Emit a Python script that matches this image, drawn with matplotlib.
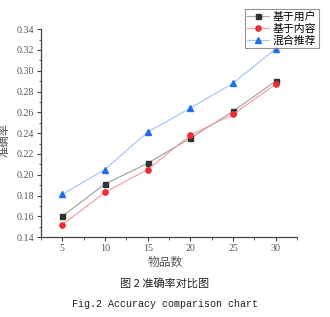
import matplotlib
matplotlib.use('Agg')
import matplotlib.pyplot as plt
from matplotlib.ticker import MultipleLocator, FuncFormatter

plt.rcParams['font.family'] = ['Liberation Serif', 'Noto Sans CJK SC']

# data
items = [5, 10, 15, 20, 25, 30]
user_based = [0.160, 0.191, 0.211, 0.235, 0.261, 0.290]
content_based = [0.152, 0.183, 0.205, 0.238, 0.258, 0.287]
hybrid = [0.181, 0.205, 0.241, 0.264, 0.288, 0.321]
series_names = ['基于用户', '基于内容', '混合推荐']

fig = plt.figure(figsize=(3.3, 3.17), dpi=100)
ax = fig.add_axes([0.124, 0.252, 0.776, 0.656])

ax.plot(items, user_based, color='#a8a8a8', lw=0.9, marker='s', ms=3.6,
        mfc='#333333', mec='#333333', label=series_names[0])
ax.plot(items, content_based, color='#f5a3a3', lw=0.9, marker='o', ms=3.8,
        mfc='#ee2c35', mec='#ee2c35', label=series_names[1])
ax.plot(items, hybrid, color='#a9c6f5', lw=0.9, marker='^', ms=4.2,
        mfc='#1e6ee6', mec='#1e6ee6', label=series_names[2])

ax.set_xlim(2.5, 32.5)
ax.set_ylim(0.14, 0.34)
ax.xaxis.set_major_locator(MultipleLocator(5))
ax.xaxis.set_minor_locator(MultipleLocator(2.5))
ax.yaxis.set_major_locator(MultipleLocator(0.02))
ax.yaxis.set_minor_locator(MultipleLocator(0.01))
ax.yaxis.set_major_formatter(FuncFormatter(lambda v, p: '{:.2f}'.format(v)))

for s in ['top', 'right']:
    ax.spines[s].set_visible(False)
for s in ['left', 'bottom']:
    ax.spines[s].set_color('#444444')
    ax.spines[s].set_linewidth(0.9)

ax.tick_params(which='major', direction='out', length=3, width=0.8, colors='#444444',
               labelsize=7.2, labelcolor='#555555', pad=2)
ax.tick_params(which='minor', direction='out', length=1.8, width=0.6, colors='#444444')

ax.set_xlabel('物品数', fontsize=8.5, color='#555555', family=['Noto Sans CJK SC'])
ax.set_ylabel('准确率', fontsize=8.2, color='#555555', family=['Noto Sans CJK SC'])
ax.xaxis.set_label_coords(0.484, -0.09)
ax.yaxis.set_label_coords(-0.118, 0.466)

leg = ax.legend(loc='upper right', bbox_to_anchor=(0.982, 0.988), bbox_transform=fig.transFigure,
                frameon=True, fancybox=False, borderpad=0.2,
                handlelength=2.0, handletextpad=0.4, labelspacing=0.15,
                prop={'family': ['Noto Sans CJK SC'], 'size': 7.8})
leg.get_frame().set_edgecolor('#777777')
leg.get_frame().set_linewidth(0.8)

fig.text(0.5, 0.107, '图 2 准确率对比图', ha='center', va='center', fontsize=8,
         family=['Noto Sans CJK SC'], color='#222222')
fig.text(0.5, 0.041, 'Fig.2 Accuracy comparison chart', ha='center', va='center',
         fontsize=7.2, family=['Liberation Mono'], color='#222222')

fig.savefig('out.png', dpi=100)
